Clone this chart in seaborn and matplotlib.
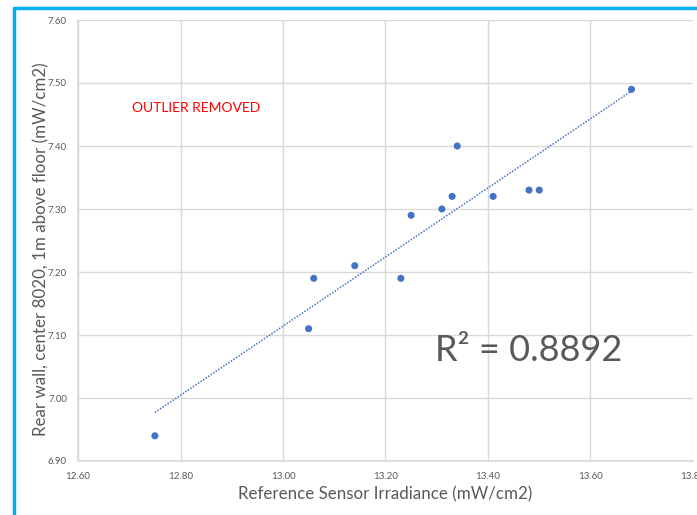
import numpy as np
import pandas as pd
import seaborn as sns
import matplotlib.pyplot as plt
from matplotlib.lines import Line2D

# Sensor readings (mW/cm2)
reference_irradiance = [12.75, 13.05, 13.06, 13.14, 13.23, 13.25, 13.31,
                        13.33, 13.34, 13.41, 13.48, 13.50, 13.68]
rear_wall_irradiance = [6.94, 7.11, 7.19, 7.21, 7.19, 7.29, 7.30,
                        7.32, 7.40, 7.32, 7.33, 7.33, 7.49]

x_ticks = [12.60, 12.80, 13.00, 13.20, 13.40, 13.60, 13.80]
y_ticks = [6.90, 7.00, 7.10, 7.20, 7.30, 7.40, 7.50, 7.60]

r_squared_label = "R² = 0.8892"
note_label = "OUTLIER REMOVED"

df = pd.DataFrame({"ref": reference_irradiance, "wall": rear_wall_irradiance})

sns.set_theme(style="white")
plt.rcParams["font.family"] = ["Lato", "DejaVu Sans"]

W, H = 697, 515
fig = plt.figure(figsize=(W / 100, H / 100), dpi=100)
ax = fig.add_axes([78 / W, 1 - 461 / H, (693 - 78) / W, (461 - 20) / H])

marker_blue = "#4472C4"
grid_grey = "#D9D9D9"
text_grey = "#595959"

# Linear trendline across the measured range
sns.regplot(data=df, x="ref", y="wall", scatter=False, ci=None, ax=ax,
            color=marker_blue, line_kws=dict(ls=(0, (1, 1)), lw=1.1))
sns.scatterplot(data=df, x="ref", y="wall", ax=ax, color=marker_blue,
                s=26, edgecolor="none", zorder=3)

ax.set_xlim(x_ticks[0], x_ticks[-1])
ax.set_ylim(y_ticks[0], y_ticks[-1])
ax.set_xticks(x_ticks)
ax.set_yticks(y_ticks)
ax.set_xticklabels([f"{v:.2f}" for v in x_ticks])
ax.set_yticklabels([f"{v:.2f}" for v in y_ticks])
ax.tick_params(axis="both", length=0, labelsize=7, colors=text_grey, pad=8)
ax.grid(True, color=grid_grey, lw=1)
ax.set_axisbelow(True)
for side in ["top", "right"]:
    ax.spines[side].set_visible(False)
for side in ["left", "bottom"]:
    ax.spines[side].set_color(grid_grey)
    ax.spines[side].set_linewidth(1.2)

ax.set_xlabel("Reference Sensor Irradiance (mW/cm2)", fontsize=12.2,
              color=text_grey, labelpad=4)
ax.set_ylabel("Rear wall, center 8020, 1m above floor (mW/cm2)", fontsize=12.2,
              color=text_grey)
ax.yaxis.set_label_coords(-0.047, 0.48)

ax.text(13.48, 7.076, r_squared_label, fontsize=26, color=text_grey,
        ha="center", va="center")
ax.text(12.705, 7.4605, note_label, fontsize=10, color="#FF0000",
        ha="left", va="center")

# Blue frame along the top and left edges
blue_frame = "#00B0F0"
fig.add_artist(Line2D([14 / W, 1.0], [1 - 7.5 / H, 1 - 7.5 / H],
                      transform=fig.transFigure, color=blue_frame, lw=2.5))
fig.add_artist(Line2D([14 / W, 14 / W], [0, 1 - 7.5 / H],
                      transform=fig.transFigure, color=blue_frame, lw=2.5))

fig.savefig("out.png", dpi=100)
